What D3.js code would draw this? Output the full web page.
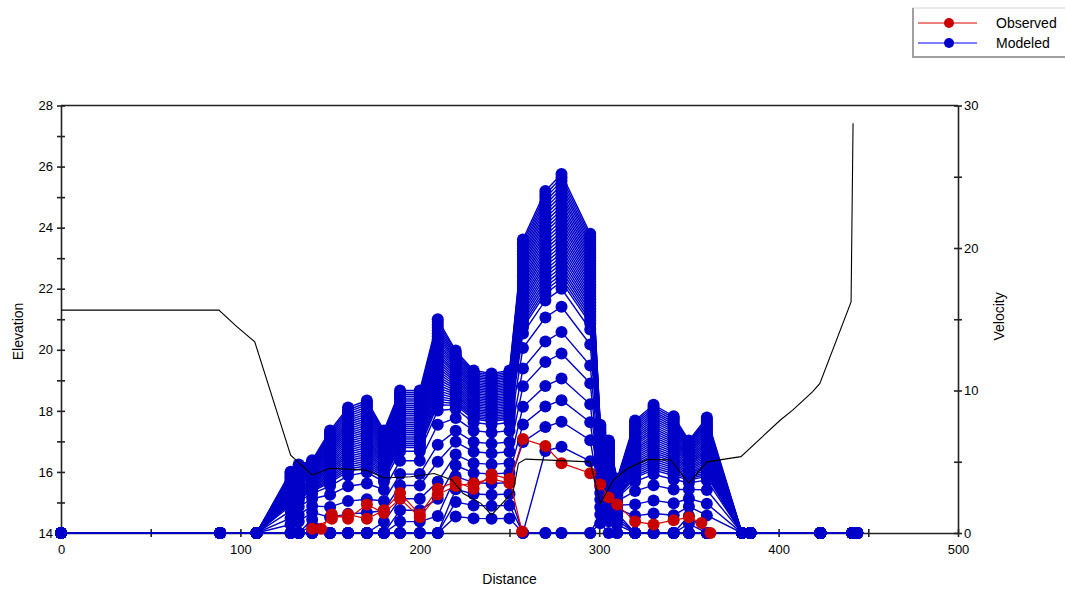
<!DOCTYPE html>
<html>
<head>
<meta charset="utf-8">
<script src="https://cdn.jsdelivr.net/npm/d3@7"></script>
<style>
  body { margin: 0; background: #fff; }
  svg { display: block; font-family: "Liberation Sans", Arial, sans-serif; }
  .axis text { font-size: 13px; fill: #000; }
  .axis path, .axis line { stroke: #222; stroke-width: 1.6; }
</style>
</head>
<body>
<svg id="chart" width="1065" height="591"></svg>
<script>
// ground profile (left axis)
const elevDist = [0, 88, 98, 108, 128, 140, 150, 170, 180, 195, 208, 218, 224, 234, 240, 252, 255, 259, 295, 300.6, 308, 316, 327, 340, 350, 360, 379, 401, 408, 419, 423, 440.4, 441.5];
const elevation = [21.3, 21.3, 20.76, 20.26, 16.55, 15.9, 16.12, 16.06, 15.8, 15.84, 15.95, 15.74, 15.3, 14.97, 14.59, 15.35, 16.28, 16.42, 16.33, 14.97, 15.74, 16.12, 16.41, 16.39, 15.63, 16.33, 16.5, 17.7, 18.03, 18.63, 18.9, 21.57, 27.42];

// modeled velocity: stations, top of each column, stage where the station gets wet
// and the stage its velocity starts counting from
const stations     = [0, 88.7, 109, 128, 132.5, 140, 150, 160, 170.5, 180, 189, 200, 210, 220, 230, 240, 250, 257.5, 270, 279, 295, 300.6, 305.3, 310, 320, 330.3, 341.5, 350, 360, 379.6, 384.3, 423.3, 441, 443.8];
const peakVelocity = [0, 0, 0, 4.3, 4.8, 5.1, 7.2, 8.8, 9.3, 7.2, 10.0, 10.0, 15.0, 12.8, 11.4, 11.2, 11.4, 20.6, 24.0, 25.2, 21.0, 7.6, 6.5, 3.8, 7.9, 9.0, 8.2, 6.5, 8.1, 0, 0, 0, 0, 0];
const wetStage     = [0, 0, 0, 0.5, 0.45, 0.35, 0.45, 0.45, 0.45, 0.4, 0.3, 0.3, 0.3, 0, 0, 0, 0, 0.25, 0.2, 0.2, 0.22, 0.05, 0.15, 0.2, 0.45, 0.45, 0.45, 0.35, 0.45, 0, 0, 0, 0, 0];
const stageOffset  = [0, 0, 0, 0.42, 0.4, 0.3, 0.41, 0.41, 0.41, 0.36, 0.25, 0.25, 0.25, 0, 0, 0, 0, 0, 0, 0, 0, 0, 0.05, 0.1, 0.41, 0.41, 0.41, 0.3, 0.41, 0, 0, 0, 0, 0];
// dot levels of each modeled run (share of its top)
const runStage = [0.09, 0.17, 0.24, 0.31, 0.37, 0.43, 0.5, 0.56, 0.63, 0.68,
	0.7, 0.71, 0.72, 0.73, 0.74, 0.75, 0.76, 0.77, 0.78, 0.79, 0.8, 0.81, 0.82, 0.83, 0.84, 0.85,
	0.86, 0.87, 0.88, 0.89, 0.9, 0.91, 0.92, 0.93, 0.94, 0.95, 0.96, 0.97, 0.98, 0.99, 1.0];

// observed velocity
const obsADist = [140, 151, 160, 170.5, 180, 189, 200, 210, 220, 230, 240, 250, 257];
const obsAVel  = [0.3, 1.0, 1.3, 1.0, 1.6, 2.8, 1.3, 3.1, 3.6, 3.1, 4.1, 3.8, 0.1];
const obsBDist = [145, 151, 160, 170.5, 180, 189, 200, 210, 220, 230, 240, 250, 257.5, 270, 279, 295, 300.6, 305.3, 310, 320, 330.3, 341.5, 350, 357, 362];
const obsBVel  = [0.3, 1.3, 1.0, 2.0, 1.4, 2.4, 1.1, 2.7, 3.3, 3.5, 3.8, 3.5, 6.6, 6.1, 4.9, 4.2, 3.4, 2.5, 2.0, 0.8, 0.6, 0.9, 1.1, 0.7, 0];

const elevTicks = d3.range(14, 29, 1);
const velTicks = d3.range(0, 31, 5);
const distTicks = d3.range(0, 501, 50);

const svg = d3.select('#chart');
const x = d3.scaleLinear().domain([0, 500]).range([61, 958]);
const yE = d3.scaleLinear().domain([14, 28]).range([533, 105.5]);
const yV = d3.scaleLinear().domain([0, 30]).range([533, 105.5]);

// axes
const crossTicks = (g, dir) => g.selectAll('.tick line')
	.attr(dir + '1', -4).attr(dir + '2', 4);

svg.append('g').attr('class', 'axis')
	.attr('transform', `translate(${x(0)},0)`)
	.call(d3.axisLeft(yE).tickValues(elevTicks).tickSize(4).tickSizeOuter(0).tickPadding(4)
		.tickFormat(d => d % 2 === 0 ? d : ''))
	.call(g => crossTicks(g, 'x'));

svg.append('g').attr('class', 'axis')
	.attr('transform', `translate(${x(500)},0)`)
	.call(d3.axisRight(yV).tickValues(velTicks).tickSize(4).tickSizeOuter(0).tickPadding(2)
		.tickFormat(d => d % 10 === 0 ? d : ''))
	.call(g => crossTicks(g, 'x'));

svg.append('g').attr('class', 'axis')
	.attr('transform', `translate(0,${yE(14)})`)
	.call(d3.axisBottom(x).tickValues(distTicks).tickSize(4).tickSizeOuter(0).tickPadding(8)
		.tickFormat(d => d % 100 === 0 ? d : ''))
	.call(g => crossTicks(g, 'y'));

svg.append('line')
	.attr('x1', x(0)).attr('x2', x(500))
	.attr('y1', yE(28)).attr('y2', yE(28))
	.attr('stroke', '#222').attr('stroke-width', 1.6);

svg.append('text').attr('x', x(250)).attr('y', 584)
	.attr('text-anchor', 'middle').style('font-size', '14px').text('Distance');
svg.append('text').attr('transform', `translate(23,${yE(20.6)}) rotate(-90)`)
	.attr('text-anchor', 'middle').style('font-size', '14px').text('Elevation');
svg.append('text').attr('transform', `translate(1004,${yV(15.2)}) rotate(-90)`)
	.attr('text-anchor', 'middle').style('font-size', '14px').text('Velocity');

// modeled runs
const modeled = runStage.map(f => stations.map((d, i) => ({
	d: d,
	v: f >= wetStage[i] ? peakVelocity[i] * (f - stageOffset[i]) / (1 - stageOffset[i]) : 0
})));

const velLine = d3.line().x(p => x(p.d)).y(p => yV(p.v));

const runs = svg.append('g').selectAll('g')
	.data(modeled)
	.join('g');

runs.append('path')
	.attr('d', velLine)
	.attr('fill', 'none')
	.attr('stroke', '#0000c8')
	.attr('stroke-width', 1.4);

runs.selectAll('circle')
	.data(d => d)
	.join('circle')
	.attr('cx', p => x(p.d))
	.attr('cy', p => yV(p.v))
	.attr('r', 6)
	.attr('fill', '#0000c8');

// observed
const observed = [
	obsADist.map((d, i) => ({d: d, v: obsAVel[i]})),
	obsBDist.map((d, i) => ({d: d, v: obsBVel[i]}))
];

const obs = svg.append('g').selectAll('g')
	.data(observed)
	.join('g');

obs.append('path')
	.attr('d', velLine)
	.attr('fill', 'none')
	.attr('stroke', '#e00000')
	.attr('stroke-width', 1.2);

obs.selectAll('circle')
	.data(d => d)
	.join('circle')
	.attr('cx', p => x(p.d))
	.attr('cy', p => yV(p.v))
	.attr('r', 6)
	.attr('fill', '#c80000');

// ground line
svg.append('path')
	.datum(elevDist.map((d, i) => ({d: d, e: elevation[i]})))
	.attr('d', d3.line().x(p => x(p.d)).y(p => yE(p.e)))
	.attr('fill', 'none')
	.attr('stroke', '#000')
	.attr('stroke-width', 1.1);

// legend
const legend = svg.append('g');
legend.append('rect')
	.attr('x', 913).attr('y', 8).attr('width', 160).attr('height', 49)
	.attr('fill', '#fff').attr('stroke', '#d4d4d4').attr('stroke-width', 1);
legend.append('path')
	.attr('d', 'M913,8 V57 H1065')
	.attr('fill', 'none').attr('stroke', '#a0a0a0').attr('stroke-width', 2);

const legendItems = [
	{name: 'Observed', line: '#e00000', dot: '#c80000', y: 23},
	{name: 'Modeled', line: '#0000ff', dot: '#0000c8', y: 43}
];
legendItems.forEach(it => {
	legend.append('line')
		.attr('x1', 918).attr('x2', 977).attr('y1', it.y).attr('y2', it.y)
		.attr('stroke', it.line).attr('stroke-width', 1.2);
	legend.append('circle')
		.attr('cx', 949).attr('cy', it.y).attr('r', 5)
		.attr('fill', it.dot);
	legend.append('text')
		.attr('x', 996).attr('y', it.y + 5)
		.style('font-size', '14px')
		.text(it.name);
});
</script>
</body>
</html>
